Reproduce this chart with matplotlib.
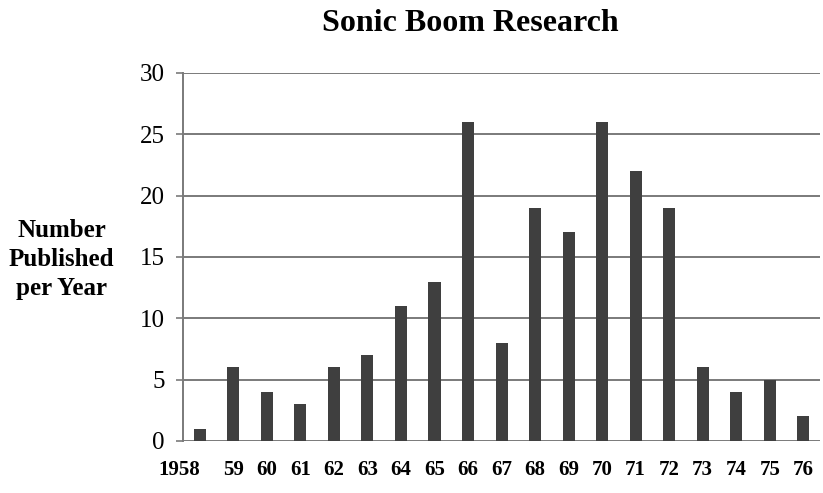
import matplotlib.pyplot as plt
import numpy as np

# publications per year
years = ['1958', '59', '60', '61', '62', '63', '64', '65', '66', '67',
         '68', '69', '70', '71', '72', '73', '74', '75', '76']
counts = [1, 6, 4, 3, 6, 7, 11, 13, 26, 8, 19, 17, 26, 22, 19, 6, 4, 5, 2]

plt.rcParams['font.family'] = ['Liberation Serif', 'DejaVu Serif']

fig = plt.figure(figsize=(8.23, 4.93), dpi=100)
ax = fig.add_axes([0.2224, 0.1055, 0.774, 0.7465])

x = np.arange(len(years))
ax.bar(x, counts, width=0.36, color='#3f3f3f', zorder=3)

ax.set_xlim(-0.5, len(years) - 0.5)
ax.set_ylim(0, 30)
ax.set_yticks(range(0, 31, 5))
ax.yaxis.grid(True, color='#7a7a7a', linewidth=1.4, zorder=0)

ax.set_xticks(x)
ax.set_xticklabels(years, fontsize=15, fontweight='bold')
ax.get_xticklabels()[0].set_ha('right')
ax.tick_params(axis='x', length=0, pad=14)
ax.tick_params(axis='y', length=5, width=1.2, color='#7a7a7a', labelsize=18, pad=8)

for side in ['top', 'right', 'bottom']:
    ax.spines[side].set_visible(False)
ax.spines['left'].set_color('#7a7a7a')
ax.spines['left'].set_linewidth(1.4)

fig.text(0.572, 0.953, 'Sonic Boom Research', ha='center', va='center',
         fontsize=23, fontweight='bold')
fig.text(0.075, 0.474, 'Number\nPublished\nper Year', ha='center', va='center',
         fontsize=18, fontweight='bold', linespacing=1.35)

fig.savefig('out.png', dpi=100)
